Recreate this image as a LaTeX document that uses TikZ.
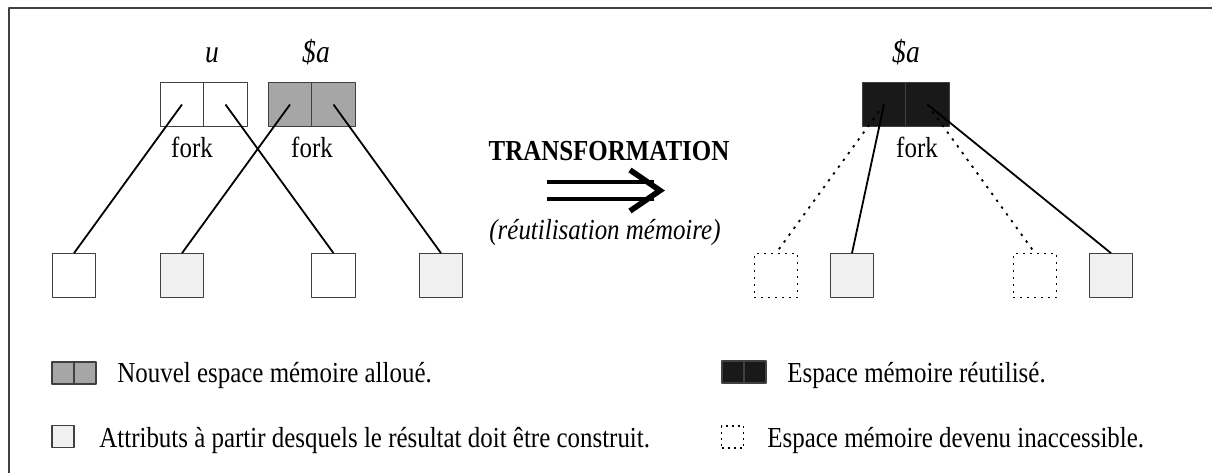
\documentclass[tikz,border=0pt]{standalone}
\usepackage{fontspec}
\setmainfont{Liberation Serif}[FakeStretch=0.86]
\definecolor{newgray}{gray}{0.65}
\definecolor{attrgray}{gray}{0.94}
\definecolor{reuseblack}{gray}{0.1}
\definecolor{edgegray}{gray}{0.25}
\begin{document}
\begin{tikzpicture}[x=0.5pt, y=-0.5pt, font=\fontsize{14.5}{17}\selectfont, line join=round,
	cell/.style={draw=edgegray, line width=0.6pt, minimum size=21.75pt, inner sep=0pt},
	smallcell/.style={cell, minimum size=11pt},
	attr/.style={cell, fill=attrgray},
	lost/.style={cell, draw=black, dash pattern=on 1pt off 2.5pt},
	link/.style={line width=0.9pt},
	lostlink/.style={line width=0.9pt, dash pattern=on 1.2pt off 3pt},
	txt/.style={inner sep=0pt, anchor=base},
	var/.style={txt, font=\fontsize{16}{19}\selectfont\itshape}]
	\useasboundingbox (0,0) rectangle (1212,473);
	\draw[edgegray, line width=0.8pt] (1212,8) -- (9,8) -- (9,473);
	% avant
	\node[cell] (u1) at (182,104.5) {};
	\node[cell] (u2) at (225.5,104.5) {};
	\node[cell, fill=newgray] (a1) at (290,104.5) {};
	\node[cell, fill=newgray] (a2) at (333.5,104.5) {};
	\node[var] (lu) at (212,62) {u};
	\node[var] (la) at (316,62) {\$a};
	\node[txt] (fu) at (192,157) {fork};
	\node[txt] (fa) at (312,157) {fork};
	\node[cell] (b1) at (74,275.5) {};
	\node[attr] (b2) at (182,275.5) {};
	\node[cell] (b3) at (333.5,275.5) {};
	\node[attr] (b4) at (441,275.5) {};
	\draw[link] (u1.center) -- (b1.north);
	\draw[link] (u2.center) -- (b3.north);
	\draw[link] (a1.center) -- (b2.north);
	\draw[link] (a2.center) -- (b4.north);
	% transformation
	\node[txt] (tr) at (609,160) {\textbf{TRANSFORMATION}};
	\node[txt] (rm) at (605,239) {\textit{(réutilisation mémoire)}};
	\draw[line width=2.3pt] (547,182) -- (654,182);
	\draw[line width=2.3pt] (547,199) -- (654,199);
	\draw[line width=2.8pt, line join=miter] (630,170) -- (660,190.5) -- (630,211);
	% apres
	\node[cell, fill=reuseblack] (k1) at (884,104.5) {};
	\node[cell, fill=reuseblack] (k2) at (927.5,104.5) {};
	\node[var] (lk) at (906,62) {\$a};
	\node[txt] (fk) at (917,157) {fork};
	\node[lost] (r1) at (776,275.5) {};
	\node[attr] (r2) at (852,275.5) {};
	\node[lost] (r3) at (1035,275.5) {};
	\node[attr] (r4) at (1111,275.5) {};
	\draw[lostlink] (k1.center) -- (r1.north);
	\draw[lostlink] (k2.center) -- (r3.north);
	\draw[link] (k1.center) -- (r2.north);
	\draw[link] (k2.center) -- (r4.north);
	% legende
	\node[smallcell, fill=newgray] (n1) at (63,373) {};
	\node[smallcell, fill=newgray] (n2) at (85,373) {};
	\node[txt, anchor=base west] (tn) at (117,382) {Nouvel espace mémoire alloué.};
	\node[smallcell, fill=attrgray] (t1) at (63,436.5) {};
	\node[txt, anchor=base west] (tt) at (99,447) {Attributs à partir desquels le résultat doit être construit.};
	\node[smallcell, fill=reuseblack] (e1) at (733,372) {};
	\node[smallcell, fill=reuseblack] (e2) at (755,372) {};
	\node[txt, anchor=base west] (te) at (787,382) {Espace mémoire réutilisé.};
	\node[smallcell, draw=black, dash pattern=on 1pt off 2pt] (d1) at (732.5,437) {};
	\node[txt, anchor=base west] (td) at (767,447) {Espace mémoire devenu inaccessible.};
\end{tikzpicture}
\end{document}
